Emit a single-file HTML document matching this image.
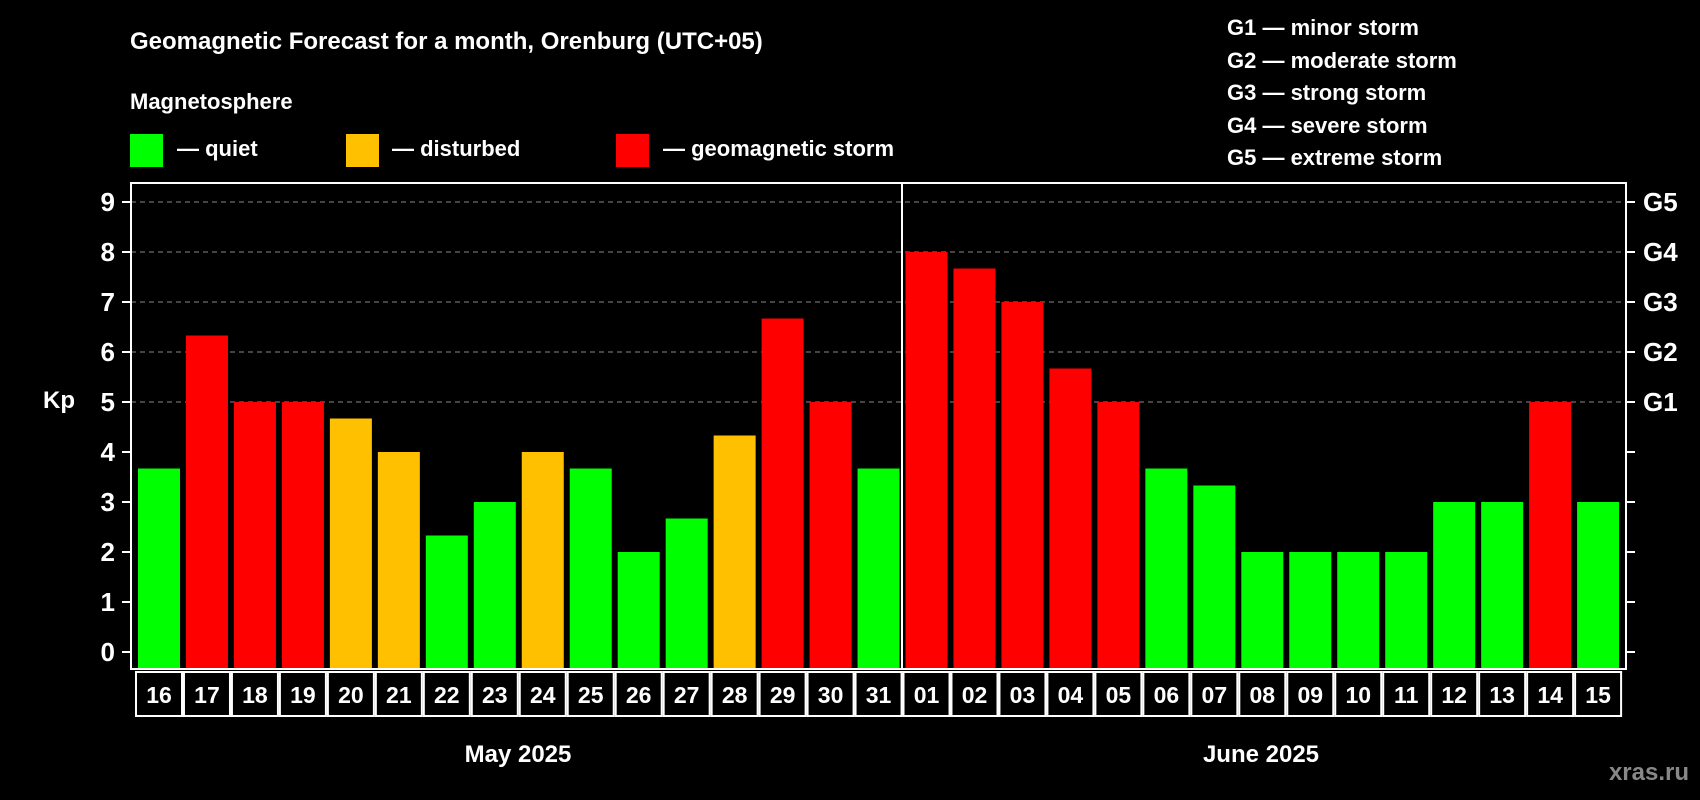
<!DOCTYPE html>
<html><head><meta charset="utf-8"><style>
body{margin:0;background:#000;}
svg{display:block;font-family:"Liberation Sans",Arial,sans-serif;font-weight:bold;}
</style></head><body>
<svg width="1700" height="800" viewBox="0 0 1700 800">
<text x="130" y="49" fill="#fff" font-size="24">Geomagnetic Forecast for a month, Orenburg (UTC+05)</text>
<text x="130" y="109" fill="#fff" font-size="22">Magnetosphere</text>
<g><rect x="130" y="134" width="33" height="33" fill="#00ff00"/><text x="177" y="156" fill="#fff" font-size="22">— quiet</text></g>
<g><rect x="346" y="134" width="33" height="33" fill="#ffc000"/><text x="392" y="156" fill="#fff" font-size="22">— disturbed</text></g>
<g><rect x="616" y="134" width="33" height="33" fill="#ff0000"/><text x="663" y="156" fill="#fff" font-size="22">— geomagnetic storm</text></g>
<g fill="#fff" font-size="22">
<text x="1227" y="35">G1 — minor storm</text><text x="1227" y="68">G2 — moderate storm</text><text x="1227" y="100">G3 — strong storm</text><text x="1227" y="133">G4 — severe storm</text><text x="1227" y="165">G5 — extreme storm</text>
</g>
<text x="43" y="408" fill="#fff" font-size="24">Kp</text>
<g id="grid"></g><g id="bars"></g><g id="labels"></g>
<rect x="131" y="183" width="1495" height="486" fill="none" stroke="#fff" stroke-width="2"/>
<line x1="902" y1="183" x2="902" y2="669" stroke="#fff" stroke-width="2"/>
<text x="518" y="762" fill="#fff" font-size="24" text-anchor="middle">May 2025</text>
<text x="1261" y="762" fill="#fff" font-size="24" text-anchor="middle">June 2025</text>
<text x="1689" y="780" fill="#888" font-size="24" text-anchor="end">xras.ru</text>
</svg>
<script>
const days=["16","17","18","19","20","21","22","23","24","25","26","27","28","29","30","31","01","02","03","04","05","06","07","08","09","10","11","12","13","14","15"];
const kp=[3.67,6.33,5,5,4.67,4,2.33,3,4,3.67,2,2.67,4.33,6.67,5,3.67,8,7.67,7,5.67,5,3.67,3.33,2,2,2,2,3,3,5,3];
const yTicks=[0,1,2,3,4,5,6,7,8,9];
const gLabels=["G1","G2","G3","G4","G5"];
const NS="http://www.w3.org/2000/svg";
const y=v=>652-v*50;
const x=i=>159+i*47.97;
function mk(t,a,p){const e=document.createElementNS(NS,t);for(const k in a)e.setAttribute(k,a[k]);p.appendChild(e);return e;}
const grid=document.getElementById('grid'),bars=document.getElementById('bars'),labels=document.getElementById('labels');
yTicks.forEach(v=>{
 if(v>=5){const l=mk('line',{x1:131,x2:1626,y1:y(v),y2:y(v),stroke:'#888','stroke-dasharray':'5,4','stroke-width':1},grid);
 
 }
 mk('line',{x1:122,x2:131,y1:y(v),y2:y(v),stroke:'#fff','stroke-width':2},grid);
 mk('line',{x1:1626,x2:1635,y1:y(v),y2:y(v),stroke:'#fff','stroke-width':2},grid);
 const t=mk('text',{x:115,y:y(v)+9,fill:'#fff','font-size':26,'text-anchor':'end'},grid);t.textContent=v;
 
 
});
gLabels.forEach((g,i)=>{const t=mk('text',{x:1643,y:y(5+i)+9,fill:'#fff','font-size':26},grid);t.textContent=g;
 
 });
kp.forEach((v,i)=>{
 const c=v<4?'#00ff00':(v<5?'#ffc000':'#ff0000');
 const r=mk('rect',{x:x(i)-21,y:y(v),width:42,height:y(0)-y(v)+16,fill:c},bars);
 
 
});
days.forEach((d,i)=>{
 const b=mk('rect',{x:x(i)-23,y:672,width:46,height:44,fill:'#000',stroke:'#fff','stroke-width':2},labels);
 
 
 const t=mk('text',{x:x(i),y:703,fill:'#fff','font-size':23,'text-anchor':'middle'},labels);t.textContent=d;
 
 
});
</script>
</body></html>
